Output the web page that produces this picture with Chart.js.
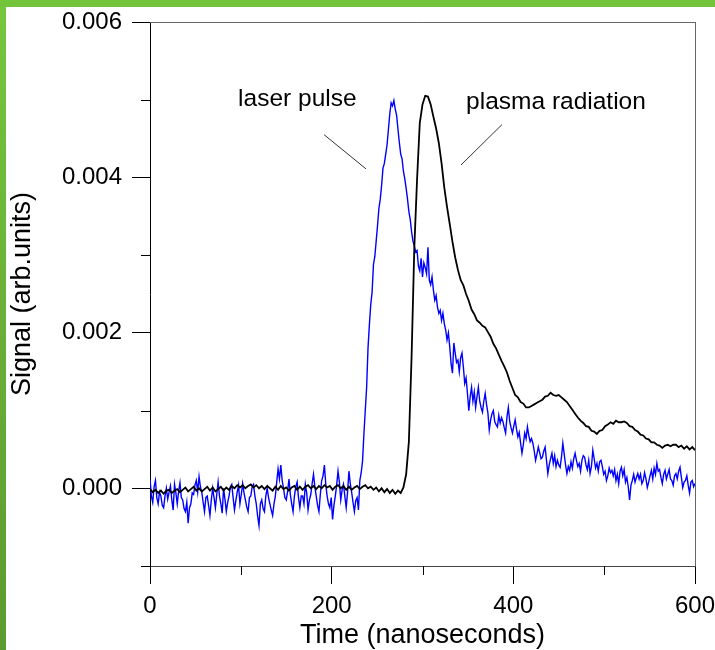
<!DOCTYPE html>
<html><head><meta charset="utf-8">
<script src="https://cdn.jsdelivr.net/npm/chart.js@4/dist/chart.umd.min.js"></script>
<style>html,body{margin:0;padding:0;background:#fff;overflow:hidden}#wrap{width:715px;height:650px;position:relative}</style>
</head><body><div id="wrap"><canvas id="c" width="715" height="650"></canvas></div>
<script>
// Plasma signal time axis (ns), sampled every 3 ns
const plasmaTimeNs = [
0,3,6,9,12,15,18,21,24,27,30,33,36,39,42,45,48,51,54,57,
60,63,66,69,72,75,78,81,84,87,90,93,96,99,102,105,108,111,114,117,
120,123,126,129,132,135,138,141,144,147,150,153,156,159,162,165,168,171,174,177,
180,183,186,189,192,195,198,201,204,207,210,213,216,219,222,225,228,231,234,237,
240,243,246,249,252,255,258,261,264,267,270,273,276,279,282,285,288,291,294,297,
300,303,306,309,312,315,318,321,324,327,330,333,336,339,342,345,348,351,354,357,
360,363,366,369,372,375,378,381,384,387,390,393,396,399,402,405,408,411,414,417,
420,423,426,429,432,435,438,441,444,447,450,453,456,459,462,465,468,471,474,477,
480,483,486,489,492,495,498,501,504,507,510,513,516,519,522,525,528,531,534,537,
540,543,546,549,552,555,558,561,564,567,570,573,576,579,582,585,588,591,594,597,
600];

// Plasma radiation signal (black)
const plasmaRadiation = [
-0.00001,-0.00005,-0.00002,-0.00006,-0.00003,-0.00007,-0.00003,-0.00002,-0.00006,-0.00003,
-0.00001,-0.00005,-0.00002,0.00001,-0.00004,-0.00001,0.00002,-0.00003,0,-0.00004,
-0.00001,0.00002,-0.00003,0.00001,-0.00004,-0.00001,0.00002,-0.00003,0.00001,-0.00002,
0.00003,0,0.00004,0.00001,0.00004,0,0.00003,0.00005,0.00001,0.00004,
0,0.00003,-0.00001,0.00003,0,-0.00003,0.00002,-0.00002,0.00003,-0.00001,
0.00001,-0.00003,0.00001,0.00003,-0.00002,0.00002,-0.00002,0.00002,0.00004,0,
0.00003,-0.00001,0.00003,0,0.00004,0.00001,0.00003,-0.00002,0.00002,0.00004,
0,0.00003,-0.00002,0.00002,-0.00002,0.00001,0.00003,-0.00001,0.00002,0.00004,
0,0.00002,-0.00002,0.00001,-0.00004,0,-0.00005,-0.00001,-0.00006,-0.00002,
-0.00007,-0.00003,-0.00006,0.00001,0.00018,0.0006,0.0017,0.0031,0.00397,0.0047,
0.00494,0.00505,0.00504,0.00494,0.00478,0.00463,0.00444,0.00418,0.00387,0.00362,
0.0034,0.00317,0.00297,0.00281,0.00268,0.00261,0.0025,0.00241,0.0023,0.00224,
0.00216,0.00213,0.00209,0.00207,0.00201,0.00195,0.00186,0.0018,0.00172,0.00164,
0.00157,0.00149,0.00138,0.00129,0.0012,0.00117,0.00111,0.00109,0.00104,0.00104,
0.00106,0.00108,0.0011,0.00112,0.00114,0.00118,0.00119,0.00123,0.0012,0.00119,
0.0012,0.00117,0.00114,0.00111,0.00106,0.00101,0.00096,0.00091,0.00087,0.00084,
0.0008,0.00079,0.00074,0.00073,0.0007,0.00074,0.00075,0.0008,0.00082,0.00085,
0.00083,0.00087,0.00085,0.00085,0.00086,0.00084,0.0008,0.00079,0.00075,0.00073,
0.00069,0.00068,0.00064,0.00063,0.00059,0.00059,0.00056,0.00055,0.00052,0.00055,
0.00056,0.00054,0.00056,0.00056,0.00053,0.00055,0.00051,0.00054,0.0005,0.00053,
0.00049];

// Laser signal time axis (ns), sampled every 1.5 ns
const laserTimeNs = [
0,1.5,3,4.5,6,7.5,9,10.5,12,13.5,15,16.5,18,19.5,21,22.5,24,25.5,27,28.5,
30,31.5,33,34.5,36,37.5,39,40.5,42,43.5,45,46.5,48,49.5,51,52.5,54,55.5,57,58.5,
60,61.5,63,64.5,66,67.5,69,70.5,72,73.5,75,76.5,78,79.5,81,82.5,84,85.5,87,88.5,
90,91.5,93,94.5,96,97.5,99,100.5,102,103.5,105,106.5,108,109.5,111,112.5,114,115.5,117,118.5,
120,121.5,123,124.5,126,127.5,129,130.5,132,133.5,135,136.5,138,139.5,141,142.5,144,145.5,147,148.5,
150,151.5,153,154.5,156,157.5,159,160.5,162,163.5,165,166.5,168,169.5,171,172.5,174,175.5,177,178.5,
180,181.5,183,184.5,186,187.5,189,190.5,192,193.5,195,196.5,198,199.5,201,202.5,204,205.5,207,208.5,
210,211.5,213,214.5,216,217.5,219,220.5,222,223.5,225,226.5,228,229.5,231,232.5,234,235.5,237,238.5,
240,241.5,243,244.5,246,247.5,249,250.5,252,253.5,255,256.5,258,259.5,261,262.5,264,265.5,267,268.5,
270,271.5,273,274.5,276,277.5,279,280.5,282,283.5,285,286.5,288,289.5,291,292.5,294,295.5,297,298.5,
300,301.5,303,304.5,306,307.5,309,310.5,312,313.5,315,316.5,318,319.5,321,322.5,324,325.5,327,328.5,
330,331.5,333,334.5,336,337.5,339,340.5,342,343.5,345,346.5,348,349.5,351,352.5,354,355.5,357,358.5,
360,361.5,363,364.5,366,367.5,369,370.5,372,373.5,375,376.5,378,379.5,381,382.5,384,385.5,387,388.5,
390,391.5,393,394.5,396,397.5,399,400.5,402,403.5,405,406.5,408,409.5,411,412.5,414,415.5,417,418.5,
420,421.5,423,424.5,426,427.5,429,430.5,432,433.5,435,436.5,438,439.5,441,442.5,444,445.5,447,448.5,
450,451.5,453,454.5,456,457.5,459,460.5,462,463.5,465,466.5,468,469.5,471,472.5,474,475.5,477,478.5,
480,481.5,483,484.5,486,487.5,489,490.5,492,493.5,495,496.5,498,499.5,501,502.5,504,505.5,507,508.5,
510,511.5,513,514.5,516,517.5,519,520.5,522,523.5,525,526.5,528,529.5,531,532.5,534,535.5,537,538.5,
540,541.5,543,544.5,546,547.5,549,550.5,552,553.5,555,556.5,558,559.5,561,562.5,564,565.5,567,568.5,
570,571.5,573,574.5,576,577.5,579,580.5,582,583.5,585,586.5,588,589.5,591,592.5,594,595.5,597,598.5,
600];

// Laser pulse signal (blue)
const laserPulse = [
0.00013,-0.0001,-0.00018,0.00002,0.0001,-0.00012,-0.0002,-0.00005,-0.0001,-0.00022,-0.00025,-0.0001,0,-0.00014,-0.00005,0.00003,-0.00015,-0.00028,0.00005,-0.00006,
-0.0002,-0.00004,0.00007,-0.00012,-0.00015,-0.00026,-0.0003,-0.00018,-0.00045,-0.00025,-0.0002,-0.00006,-0.00008,0.00004,0.0001,-0.00005,0.00015,0.00002,-0.00005,-0.00018,
-0.0003,-0.00012,-0.0001,-0.00022,-0.00035,-0.00015,0,-0.00012,-0.00025,-0.00008,0.00008,-0.0001,-0.0002,-0.00032,0,-0.00014,-0.0003,-0.00018,-0.0001,0.00002,
0.00005,-0.00012,-0.00028,-0.00016,-0.00005,0.00004,-0.0002,-0.00008,0.00006,-0.00006,-0.00015,-0.00024,-0.0003,-0.00012,-0.0001,0.00002,0.00005,-0.0001,-0.0002,-0.00036,
-0.00048,-0.0002,-0.00015,-0.00026,-0.0003,-0.0001,0,-0.00012,-0.0002,-0.00028,-0.00035,-0.0002,-0.0001,0.00008,0.00025,0.00012,0.0003,0.0001,0,-0.00012,
-0.00015,-0.00004,0.00012,-0.00008,-0.0002,-0.0003,-0.0001,0.00002,0.00008,-0.00012,-0.00025,-0.0001,-0.0001,-0.0002,0.00005,-0.00006,-0.00028,-0.00015,-0.00008,0.00006,
0.00018,0.00002,-0.0001,-0.00022,-0.0003,-0.00008,0.0001,0.00016,0.0003,0.00005,-0.0001,-0.0002,-0.00025,-0.00012,-0.0004,-0.00022,-0.0001,0.00004,0.00022,0.00008,
-0.00015,-0.00002,0.00005,-0.0001,-0.00025,-0.00005,0.00022,0.00006,-0.00005,-0.00018,-0.0003,-0.00016,-0.00012,-0.00028,0.0001,0.0002,0.00035,0.0007,0.001,0.0013,
0.0018,0.0021,0.00236,0.00252,0.00288,0.00298,0.00318,0.00338,0.0036,0.00372,0.0039,0.00412,0.00418,0.0043,0.00442,0.00462,0.00482,0.00496,0.00492,0.00499,
0.00488,0.0048,0.00462,0.00445,0.0043,0.00424,0.00408,0.00398,0.00386,0.00372,0.00356,0.00346,0.0033,0.00318,0.00312,0.00304,0.00306,0.00286,0.0028,0.00296,
0.00272,0.0029,0.00284,0.00276,0.0031,0.00268,0.00262,0.00272,0.00255,0.00242,0.00248,0.00233,0.00225,0.00229,0.00216,0.00225,0.00212,0.00204,0.00191,0.002,
0.00182,0.0016,0.00148,0.00187,0.00174,0.00162,0.00165,0.0015,0.00168,0.00174,0.00156,0.00135,0.00142,0.00122,0.001,0.00118,0.0013,0.00112,0.00124,0.00104,
0.00118,0.0013,0.00112,0.00104,0.00098,0.00112,0.00122,0.00108,0.00097,0.00075,0.00088,0.00096,0.001,0.00086,0.00082,0.00079,0.00094,0.00084,0.00091,0.00086,
0.00078,0.00071,0.00092,0.00104,0.00086,0.00078,0.00071,0.0008,0.00088,0.00076,0.00066,0.00072,0.00058,0.00045,0.00056,0.00071,0.00064,0.00079,0.00068,0.0006,
0.00064,0.00058,0.00048,0.00036,0.00044,0.00053,0.00046,0.00038,0.0004,0.00048,0.00053,0.00036,0.00019,0.0003,0.00038,0.00045,0.00032,0.00042,0.00028,0.00036,
0.0003,0.00027,0.0004,0.00058,0.00044,0.0003,0.00019,0.00028,0.00023,0.00034,0.00026,0.00038,0.00045,0.00036,0.00028,0.00032,0.00022,0.00036,0.00042,0.0004,
0.0003,0.00024,0.00036,0.00019,0.00028,0.00049,0.00038,0.00026,0.00032,0.00022,0.00034,0.00036,0.00028,0.00018,0.00022,0.0001,0.00016,0.00026,0.0002,0.00023,
0.00016,0.00024,0.0001,0.00018,0.00006,0.00022,0.00027,0.00016,0.00024,0.00008,0.00014,0.00002,-0.00015,0.00004,0.0001,0.00018,0.00008,0.00014,0.00019,0.00012,
0.00018,0.00006,0.0001,0.0002,0.00012,0.00001,0.00008,0.00016,0.00023,0.00012,0.00026,0.00018,0.00032,0.00022,0.00024,0.00014,0.00006,0.00018,0.00023,0.00012,
0.00018,0.00024,0.00012,0.0001,0.00004,0.00016,0.00019,0.00012,0.00022,0.00027,0.00014,0.00001,0.00008,0.0001,0.00016,0.00004,-0.00006,0.00008,0.0001,0.00002,
0.00006];

const xTickLabels = ['0','200','400','600'];
const xMinorTicks = [100,300,500];
const yTickLabels = ['0.000','0.002','0.004','0.006'];
const yMinorTicks = [-0.001,0.001,0.003,0.005];

const annotationTexts = [
  {text:'laser pulse', x:97, y:0.00500},
  {text:'plasma radiation', x:348, y:0.00497}
];
const annotationLines = [
  [[191.6,0.00455],[237.8,0.00411]],
  [[342.4,0.00416],[387.5,0.00468]]
];

const FONT = "'Liberation Sans', Arial, Helvetica, sans-serif";

const isYMajor = v => yTickLabels.some(s => Math.abs(parseFloat(s) - v) < 1e-9);
const isXMajor = v => xTickLabels.includes(String(Math.round(v)));

const decorPlugin = {
  id: 'decor',
  beforeDraw(chart) {
    const ctx = chart.ctx;
    ctx.save();
    const g = ctx.createLinearGradient(0,0,0,650);
    g.addColorStop(0,'#76c63d');
    g.addColorStop(1,'#5b9a30');
    ctx.fillStyle = g;
    ctx.fillRect(0,0,6,650);
    ctx.fillStyle = '#74c43b';
    ctx.fillRect(0,0,715,7);
    ctx.restore();
  },
  afterDraw(chart) {
    const ctx = chart.ctx;
    const xs = chart.scales.x, ys = chart.scales.y;
    const a = chart.chartArea;
    ctx.save();
    ctx.strokeStyle = '#666';
    ctx.lineWidth = 1;
    ctx.beginPath();
    ctx.moveTo(a.left, a.top + 0.5); ctx.lineTo(a.right + 0.5, a.top + 0.5);
    ctx.moveTo(a.right + 0.5, a.top); ctx.lineTo(a.right + 0.5, a.bottom);
    ctx.stroke();
    ctx.strokeStyle = '#000';
    ctx.beginPath();
    xMinorTicks.forEach(v => {
      const px = Math.round(xs.getPixelForValue(v)) + 0.5;
      ctx.moveTo(px, a.bottom); ctx.lineTo(px, a.bottom + 9);
    });
    yMinorTicks.forEach(v => {
      const py = Math.round(ys.getPixelForValue(v)) + 0.5;
      ctx.moveTo(a.left - 9, py); ctx.lineTo(a.left, py);
    });
    ctx.stroke();
    ctx.fillStyle = '#000';
    ctx.font = '24.5px ' + FONT;
    ctx.textAlign = 'left';
    ctx.textBaseline = 'middle';
    annotationTexts.forEach(t => {
      ctx.fillText(t.text, xs.getPixelForValue(t.x), ys.getPixelForValue(t.y));
    });
    ctx.strokeStyle = '#333';
    ctx.lineWidth = 1;
    annotationLines.forEach(l => {
      ctx.beginPath();
      ctx.moveTo(xs.getPixelForValue(l[0][0]), ys.getPixelForValue(l[0][1]));
      ctx.lineTo(xs.getPixelForValue(l[1][0]), ys.getPixelForValue(l[1][1]));
      ctx.stroke();
    });
    ctx.restore();
  }
};

new Chart(document.getElementById('c'), {
  type: 'line',
  data: {
    datasets: [
      {label:'plasma radiation', data: plasmaTimeNs.map((t,i)=>({x:t, y:plasmaRadiation[i]})),
       borderColor:'#000', borderWidth:1.8, pointRadius:0, tension:0},
      {label:'laser pulse', data: laserTimeNs.map((t,i)=>({x:t, y:laserPulse[i]})),
       borderColor:'#0000ff', borderWidth:1.4, pointRadius:0, tension:0}
    ]
  },
  options: {
    responsive:false, animation:false, devicePixelRatio:1,
    layout:{padding:{top:22,right:20,left:0,bottom:0}},
    plugins:{legend:{display:false}, tooltip:{enabled:false}},
    scales:{
      x:{
        type:'linear', min:0, max:600,
        afterFit(s){ s.height = 84; s.paddingLeft = 0; s.paddingRight = 0; },
        ticks:{stepSize:100, autoSkip:false, maxRotation:0, padding:8, color:'#000',
          font:{family:FONT, size:24},
          callback:v => isXMajor(v) ? xTickLabels[xTickLabels.indexOf(String(Math.round(v)))] : ''},
        grid:{drawOnChartArea:false, drawTicks:true, tickLength:18, tickWidth:1,
          tickColor: c => isXMajor(c.tick.value) ? '#000' : 'rgba(0,0,0,0)'},
        border:{display:true, color:'#444', width:1},
        title:{display:true, text:'Time (nanoseconds)', color:'#000', font:{family:FONT, size:27, lineHeight:1.05}, padding:{top:0,bottom:0}}
      },
      y:{
        type:'linear', min:-0.001, max:0.006,
        afterFit(s){ s.width = 150; s.paddingTop = 0; s.paddingBottom = 0; },
        ticks:{stepSize:0.001, autoSkip:false, padding:10, color:'#000',
          font:{family:FONT, size:24},
          callback:v => { const l = yTickLabels.find(s => Math.abs(parseFloat(s)-v) < 1e-9); return l || ''; }},
        grid:{drawOnChartArea:false, drawTicks:true, tickLength:18, tickWidth:1,
          tickColor: c => isYMajor(c.tick.value) ? '#000' : 'rgba(0,0,0,0)'},
        border:{display:true, color:'#000', width:1},
        title:{display:true, text:'Signal (arb.units)', color:'#000', font:{family:FONT, size:27, lineHeight:1.05}, padding:{top:8,bottom:0}}
      }
    }
  },
  plugins:[decorPlugin]
});
</script>
</body></html>
